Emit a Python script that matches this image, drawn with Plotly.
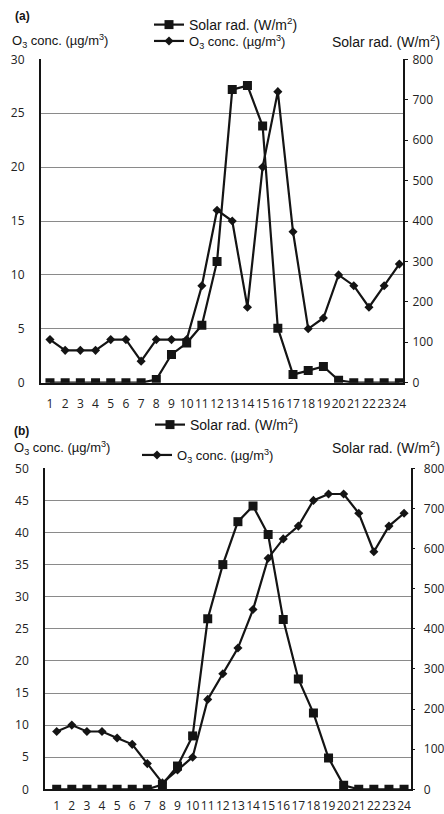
import plotly.graph_objects as go

# Hour of day (1-24)
hours = list(range(1, 25))
hour_labels = [str(h) for h in hours]

# Panel (a)
o3_a = [4, 3, 3, 3, 4, 4, 2, 4, 4, 4, 9, 16, 15, 7, 20, 27, 14, 5, 6, 10, 9, 7, 9, 11]
solar_a = [0, 0, 0, 0, 0, 0, 0, 8, 70, 98, 142, 300, 725, 735, 635, 135, 20, 30, 40, 6, 0, 0, 0, 0]

# Panel (b)
o3_b = [9, 10, 9, 9, 8, 7, 4, 1, 3, 5, 14, 18, 22, 28, 36, 39, 41, 45, 46, 46, 43, 37, 41, 43]
solar_b = [0, 0, 0, 0, 0, 0, 0, 12, 58, 133, 425, 560, 667, 706, 635, 423, 275, 190, 78, 10, 0, 0, 0, 0]

solar_name = "Solar rad. (W/m<sup>2</sup>)"
o3_name = "O<sub>3</sub> conc. (\u00b5g/m<sup>3</sup>)"

INK = "#141414"
LABEL_FONT = "Liberation Sans, Arial, sans-serif"
TICK_FONT = "Open Sans, sans-serif"

line_style = dict(color=INK, width=2.2)
square = dict(symbol="square", size=9, color=INK)
diamond = dict(symbol="diamond", size=7, color=INK)

fig = go.Figure()

# Panel (a) traces
fig.add_trace(go.Scatter(x=hours, y=solar_a, name=solar_name, mode="lines+markers",
                         line=line_style, marker=square, xaxis="x", yaxis="y2",
                         legend="legend", showlegend=True))
fig.add_trace(go.Scatter(x=hours, y=o3_a, name=o3_name, mode="lines+markers",
                         line=line_style, marker=diamond, xaxis="x", yaxis="y",
                         legend="legend2", showlegend=True))

# Panel (b) traces
fig.add_trace(go.Scatter(x=hours, y=solar_b, name=solar_name, mode="lines+markers",
                         line=line_style, marker=square, xaxis="x2", yaxis="y4",
                         legend="legend3", showlegend=True))
fig.add_trace(go.Scatter(x=hours, y=o3_b, name=o3_name, mode="lines+markers",
                         line=line_style, marker=diamond, xaxis="x2", yaxis="y3",
                         legend="legend4", showlegend=True))

W, H = 444, 814


def px_x(p):
    return p / W


def px_y(p):
    return 1 - p / H


tick_font = dict(family=TICK_FONT, size=12, color="#222")

xcommon = dict(tickmode="array", tickvals=hours, ticktext=hour_labels, showgrid=False,
               zeroline=False, showline=True, linecolor=INK, linewidth=1.5,
               ticks="", tickfont=tick_font, tickangle=0)
yleft = dict(showgrid=True, gridcolor="#8a8a8a", gridwidth=1, zeroline=False,
             showline=True, linecolor=INK, linewidth=1.5, ticks="",
             tickfont=tick_font, ticklabelstandoff=12)
yright = dict(showgrid=False, zeroline=False, showline=True, linecolor=INK,
              linewidth=1.5, ticks="outside", ticklen=3, tickcolor=INK,
              tickfont=tick_font, side="right")

fig.update_layout(
    width=W, height=H,
    showlegend=True,
    margin=dict(l=0, r=0, t=0, b=0, autoexpand=False),
    paper_bgcolor="white", plot_bgcolor="white",
    xaxis=dict(domain=[px_x(40.7), px_x(403.3)], anchor="y", range=[0.39, 24.26],
               ticklabelstandoff=9, **xcommon),
    yaxis=dict(domain=[px_y(382.7), px_y(59.3)], anchor="x", range=[0, 30], dtick=5, **yleft),
    yaxis2=dict(overlaying="y", anchor="x", range=[0, 800], dtick=100, ticklabelstandoff=2, **yright),
    xaxis2=dict(domain=[px_x(45), px_x(410.7)], anchor="y3", range=[0.225, 24.44],
                ticklabelstandoff=5, **xcommon),
    yaxis3=dict(domain=[px_y(789.3), px_y(468.3)], anchor="x2", range=[0, 50], dtick=5, **yleft),
    yaxis4=dict(overlaying="y3", anchor="x2", range=[0, 800], dtick=100, ticklabelstandoff=6, **yright),
)

legend_common = dict(bgcolor="rgba(0,0,0,0)", borderwidth=0, xanchor="left", yanchor="middle",
                     itemwidth=30)
solar_font = dict(family=LABEL_FONT, size=14, color=INK)
o3_font = dict(family=LABEL_FONT, size=13, color=INK)
fig.update_layout(
    legend=dict(x=px_x(149), y=px_y(25), font=solar_font, **legend_common),
    legend2=dict(x=px_x(149), y=px_y(41), font=o3_font, **legend_common),
    legend3=dict(x=px_x(150), y=px_y(425), font=solar_font, **legend_common),
    legend4=dict(x=px_x(137), y=px_y(455), font=o3_font, **legend_common),
)

title_font = dict(family=LABEL_FONT, size=13, color=INK)
annotations = [
    dict(text="<b>(a)</b>", x=px_x(13), y=px_y(16), xanchor="left", yanchor="middle",
         font=dict(family=LABEL_FONT, size=12, color=INK)),
    dict(text=o3_name, x=px_x(10), y=px_y(41), xanchor="left", yanchor="middle", font=title_font),
    dict(text=solar_name, x=px_x(442), y=px_y(41), xanchor="right", yanchor="middle",
         font=dict(family=LABEL_FONT, size=14, color=INK)),
    dict(text="<b>(b)</b>", x=px_x(12), y=px_y(431), xanchor="left", yanchor="middle",
         font=dict(family=LABEL_FONT, size=12, color=INK)),
    dict(text=o3_name, x=px_x(12), y=px_y(448), xanchor="left", yanchor="middle", font=title_font),
    dict(text=solar_name, x=px_x(442), y=px_y(447), xanchor="right", yanchor="middle",
         font=dict(family=LABEL_FONT, size=14, color=INK)),
]
for a in annotations:
    a.update(xref="paper", yref="paper", showarrow=False)
fig.update_layout(annotations=annotations)

fig.write_html("out.html")
